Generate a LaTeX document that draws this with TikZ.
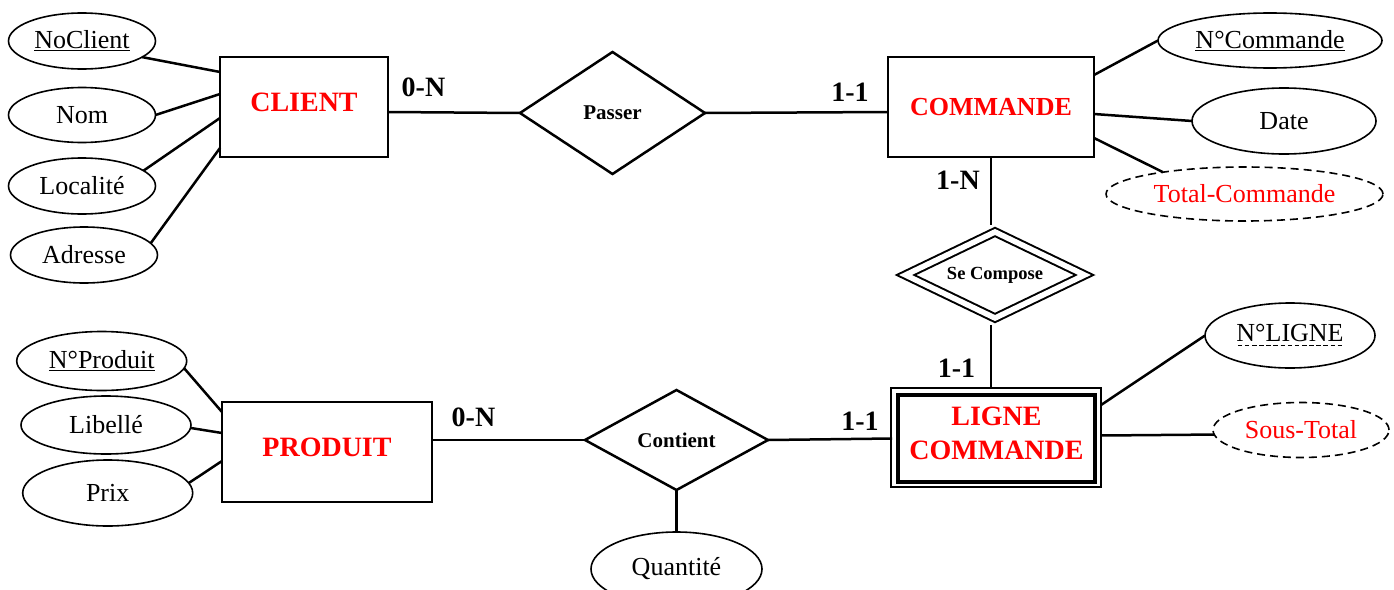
\documentclass[tikz,border=0pt]{standalone}
\usepackage{fontspec}
\setmainfont{Liberation Serif}
\usetikzlibrary{shapes.geometric}
\newsavebox{\ulkeybox}
\newcommand{\dashund}[1]{\sbox{\ulkeybox}{#1}\rlap{\hbox to \wd\ulkeybox{\xleaders\hbox to 7pt{\hss\vrule height -3pt depth 4.6pt width 4.5pt\hss}\hfill}}\usebox{\ulkeybox}}

\begin{document}
\begin{tikzpicture}[x=1pt, y=-1pt,
  entity/.style={rectangle, draw, line width=2pt, outer sep=0pt, inner sep=0pt, minimum height=100pt, align=center, text=red, font=\fontsize{28}{34}\selectfont\bfseries},
  attrib/.style={ellipse, draw, line width=1.6pt, outer sep=0pt, inner sep=0pt, font=\fontsize{26}{30}\selectfont},
  derived/.style={attrib, dash pattern=on 8pt off 5pt, text=red},
  assoc/.style={diamond, aspect=2, draw, line width=2.5pt, outer sep=0pt, inner sep=0pt, font=\fontsize{21}{25}\selectfont\bfseries},
  card/.style={inner sep=0pt, font=\fontsize{28}{32}\selectfont\bfseries},
  link/.style={line width=2.5pt}]
  \useasboundingbox (0,0) rectangle (1394,589);
  % entites
  \node[entity, minimum width=168pt, text depth=10pt] (client) at (304,107) {CLIENT};
  \node[entity, minimum width=206pt, font=\fontsize{26}{30}\selectfont\bfseries] (commande) at (991,107) {COMMANDE};
  \node[entity, minimum width=210pt, text depth=10pt] (produit) at (327,452) {PRODUIT};
  \node[entity, minimum width=197pt, minimum height=87pt, line width=3.5pt, text depth=10pt] (lc) at (996.5,438.5) {LIGNE\\COMMANDE};
  \draw[line width=1.5pt] ([xshift=-7pt,yshift=7pt]lc.north west) rectangle ([xshift=6pt,yshift=-5pt]lc.south east);
  % associations
  \node[assoc, minimum width=185pt, minimum height=122pt] (passer) at (612.5,113) {Passer};
  \node[assoc, minimum width=183pt, minimum height=100pt] (contient) at (676.5,440) {Contient};
  \node[assoc, minimum width=183pt, minimum height=90pt, line width=2pt, double, double distance=5.5pt, outer sep=4.75pt, font=\fontsize{18.5}{22}\selectfont\bfseries] (secompose) at (995,275) {Se Compose};
  % attributs
  \node[attrib, minimum width=147pt, minimum height=56pt] (noclient) at (82,41) {\underline{NoClient}};
  \node[attrib, minimum width=147pt, minimum height=55pt] (nom) at (82,115) {Nom};
  \node[attrib, minimum width=147pt, minimum height=56pt] (localite) at (82,186) {Localité};
  \node[attrib, minimum width=147pt, minimum height=56pt] (adresse) at (84,255) {Adresse};
  \node[attrib, minimum width=224pt, minimum height=55pt] (ncommande) at (1270,40.5) {\underline{N°Commande}};
  \node[attrib, minimum width=184pt, minimum height=66pt] (date) at (1284,121) {Date};
  \node[derived, minimum width=277pt, minimum height=54pt] (totcmd) at (1244.5,194) {Total-Commande};
  \node[attrib, minimum width=170pt, minimum height=65pt] (nligne) at (1290,335.5) {\dashund{N°LIGNE}};
  \node[derived, minimum width=176pt, minimum height=55pt] (soustot) at (1301,430) {Sous-Total};
  \node[attrib, minimum width=170pt, minimum height=59pt] (nproduit) at (101.7,361) {\underline{N°Produit}};
  \node[attrib, minimum width=170pt, minimum height=58pt] (libelle) at (106,425) {Libellé};
  \node[attrib, minimum width=170pt, minimum height=66pt] (prix) at (107.7,493) {Prix};
  \node[attrib, minimum width=171pt, minimum height=74pt] (quantite) at (676.5,569) {Quantité};
  % cardinalites
  \node[card] (c1) at (423.5,87.5) {0-N};
  \node[card] (c2) at (850,92) {1-1};
  \node[card] (c3) at (958,180) {1-N};
  \node[card] (c4) at (956.5,368) {1-1};
  \node[card] (c5) at (473.5,417.5) {0-N};
  \node[card] (c6) at (860,421) {1-1};
  % liens
  \draw[link] (noclient.-15) -- ([yshift=-15pt]client.north west);
  \draw[link] (nom.east) -- ([yshift=13pt]client.west);
  \draw[link] (localite.14) -- ([yshift=-11pt]client.west);
  \draw[link] (adresse.10) -- ([yshift=9pt]client.south west);
  \draw[link] ([yshift=-5pt]client.east) -- (passer.west);
  \draw[link] (passer.east) -- ([yshift=-5pt]commande.west);
  \draw[link] ([yshift=-18pt]commande.north east) -- (ncommande.west);
  \draw[link] ([yshift=-7pt]commande.east) -- (date.west);
  \draw[link] ([yshift=19pt]commande.south east) -- (totcmd.165);
  \draw[link] (commande.south) -- (commande.south |- secompose.north);
  \draw[link] (secompose.south -| commande.south) -- ([yshift=7pt]commande.south |- lc.north);
  \draw[link] ([xshift=6pt,yshift=-10pt]lc.north east) -- (nligne.west);
  \draw[link] ([xshift=6pt,yshift=3pt]lc.east) -- (soustot.183);
  \draw[link] (nproduit.-5) -- ([yshift=-10pt]produit.north west);
  \draw[link] (libelle.-2) -- ([yshift=19pt]produit.west);
  \draw[link] (prix.7) -- ([yshift=41pt]produit.south west);
  \draw[link] ([yshift=12pt]produit.east) -- (contient.west);
  \draw[link] (contient.east) -- ([xshift=-6pt]lc.west);
  \draw[link] (contient.south) -- (quantite.north);
\end{tikzpicture}
\end{document}
